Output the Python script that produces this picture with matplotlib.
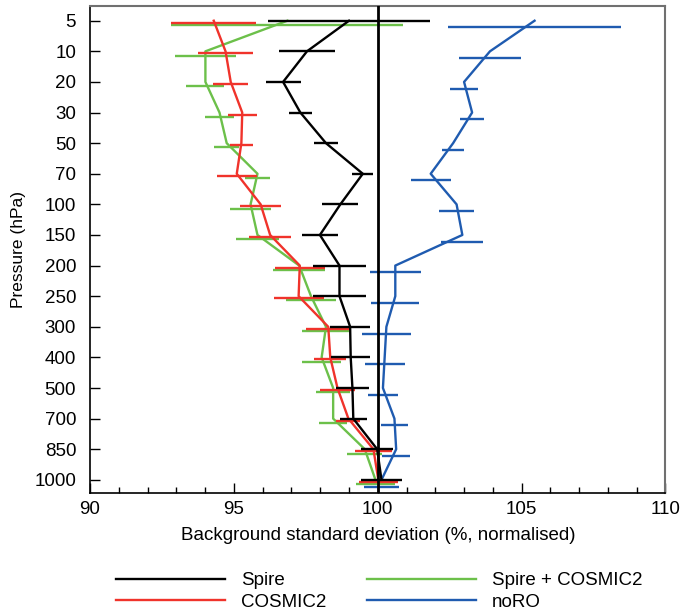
import numpy as np
import matplotlib
matplotlib.use('Agg')
import matplotlib.pyplot as plt

plt.rcParams['font.family'] = ['Liberation Sans', 'DejaVu Sans']

# pressure levels (hPa), plotted evenly spaced top to bottom
levels = ['5', '10', '20', '30', '50', '70', '100', '150', '200', '250',
          '300', '400', '500', '700', '850', '1000']

# background standard deviation (%, normalised) and half-width of the bars
spire = [99.0, 97.54, 96.71, 97.31, 98.20, 99.48, 98.70, 97.99, 98.67, 98.67,
         99.04, 99.06, 99.12, 99.15, 99.98, 100.13]
spire_err = [2.81, 0.97, 0.61, 0.41, 0.42, 0.36, 0.63, 0.64, 0.91, 0.91,
             0.69, 0.67, 0.58, 0.47, 0.55, 0.70]

cosmic2 = [94.30, 94.71, 94.89, 95.29, 95.26, 95.10, 95.93, 96.26, 97.29, 97.25,
           98.28, 98.35, 98.60, 98.98, 99.85, 100.02]
cosmic2_err = [1.48, 0.95, 0.60, 0.50, 0.41, 0.69, 0.72, 0.74, 0.86, 0.87,
               0.79, 0.55, 0.62, 0.42, 0.63, 0.67]

spire_cosmic2 = [96.86, 94.01, 94.01, 94.50, 94.75, 95.82, 95.58, 95.82, 97.27, 97.68,
                 98.20, 98.05, 98.45, 98.45, 99.55, 99.92]
spire_cosmic2_err = [4.03, 1.05, 0.66, 0.49, 0.44, 0.45, 0.71, 0.76, 0.91, 0.87,
                     0.84, 0.69, 0.58, 0.48, 0.61, 0.69]

noro = [105.45, 103.90, 103.00, 103.28, 102.62, 101.84, 102.74, 102.94, 100.61, 100.61,
        100.30, 100.24, 100.18, 100.58, 100.64, 100.13]
noro_err = [3.02, 1.08, 0.49, 0.43, 0.37, 0.69, 0.61, 0.73, 0.89, 0.83,
            0.84, 0.70, 0.52, 0.47, 0.49, 0.61]

series = [
    ('Spire', spire, spire_err, '#000000', 0.0),
    ('COSMIC2', cosmic2, cosmic2_err, '#f0332b', 0.065),
    ('Spire + COSMIC2', spire_cosmic2, spire_cosmic2_err, '#6cc04a', 0.14),
    ('noRO', noro, noro_err, '#1f5bb0', 0.22),
]
zorders = {'Spire': 5, 'COSMIC2': 4, 'Spire + COSMIC2': 3, 'noRO': 2}

fig = plt.figure(figsize=(6.81, 6.15), dpi=100)
ax = fig.add_axes([0.1322, 0.1984, 0.845, 0.7918])

y = np.arange(len(levels))
for name, vals, err, col, off in series:
    z = zorders[name]
    ax.plot(vals, y, color=col, lw=1.7, label=name, zorder=z)
    ax.errorbar(vals, y + off, xerr=err, fmt='none', ecolor=col,
                elinewidth=1.7, capsize=0, zorder=z)

ax.axvline(100, color='black', lw=2.0, zorder=6)

ax.set_xlim(90, 110)
ax.set_ylim(15.43, -0.48)
ax.set_yticks(y)
ax.set_yticklabels(levels)
ax.set_xticks(np.arange(90, 111, 5))
ax.set_xticks(np.arange(90, 111, 1), minor=True)
ax.tick_params(axis='both', which='both', direction='in', labelsize=13.5)
ax.tick_params(axis='x', which='major', length=7, width=1, pad=6)
ax.tick_params(axis='x', which='minor', length=4, width=1)
ax.tick_params(axis='y', length=7.5, width=1, pad=10)
ax.tick_params(top=False, right=False)

for s in ['left', 'bottom']:
    ax.spines[s].set_color('black')
    ax.spines[s].set_linewidth(1.2)
for s in ['top', 'right']:
    ax.spines[s].set_color('#707070')
    ax.spines[s].set_linewidth(1.5)

ax.set_xlabel('Background standard deviation (%, normalised)', fontsize=13.5, labelpad=6)
ax.set_ylabel('Pressure (hPa)', fontsize=12.5, labelpad=6)

fig.legend(loc='upper center', bbox_to_anchor=(0.557, 0.097), ncol=2,
           frameon=False, fontsize=13.5, handlelength=5.8, handletextpad=0.85,
           columnspacing=2.2, labelspacing=0.22)

fig.savefig('out.png', dpi=100)
